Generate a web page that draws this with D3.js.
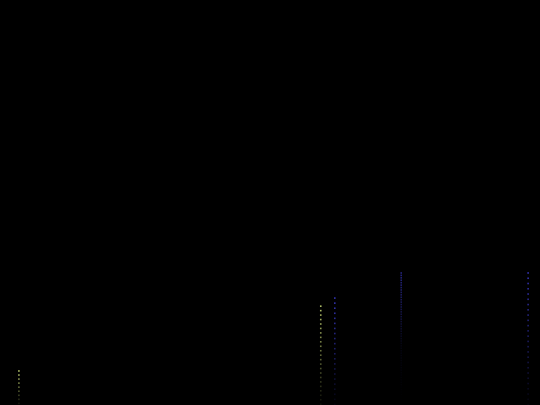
<!DOCTYPE html>
<html>
<head>
<meta charset="utf-8">
<script src="https://cdn.jsdelivr.net/npm/d3@7"></script>
<style>
  html, body { margin: 0; padding: 0; background: #000; }
  svg { display: block; }
</style>
</head>
<body>
<svg id="chart"></svg>
<script>
// columns
const series = ["a", "b", "c", "d", "e"];
const positions = [3.5, 59.4, 62.0, 74.3, 97.8];
const values = [8.4, 24.4, 26.4, 32.6, 32.6];
const groups = ["green", "green", "blue", "blue", "blue"];
const steps = [1.0, 1.1, 1.25, 0.6, 1.3];

const width = 540, height = 405;

const svg = d3.select("#chart")
  .attr("width", width)
  .attr("height", height);

svg.append("rect")
  .attr("width", width)
  .attr("height", height)
  .attr("fill", "#000");

const x = d3.scaleLinear().domain([0, 100]).range([0, width]);
const y = d3.scaleLinear().domain([0, 100]).range([height, 0]);
const color = d3.scaleOrdinal()
  .domain(["green", "blue"])
  .range(["#cfe07a", "#3c3cd0"]);

series.forEach((s, i) => {
  const top = values[i];
  const dots = d3.range(top, 0, -steps[i]);
  // the dense column fades out much sooner
  const fade = i == 3
    ? d3.scaleLinear().domain([top, top * 0.45, 0]).range([0.6, 0.08, 0]).clamp(true)
    : d3.scaleLinear().domain([top, 0]).range([0.85, 0.06]);
  svg.append("g")
    .attr("class", "col-" + s)
    .selectAll("rect")
    .data(dots)
    .enter().append("rect")
    .attr("x", x(positions[i]) - 0.8)
    .attr("y", d => y(d) - 0.8)
    .attr("width", 1.6)
    .attr("height", 1.6)
    .attr("fill", color(groups[i]))
    .attr("opacity", d => fade(d));
});
</script>
</body>
</html>
